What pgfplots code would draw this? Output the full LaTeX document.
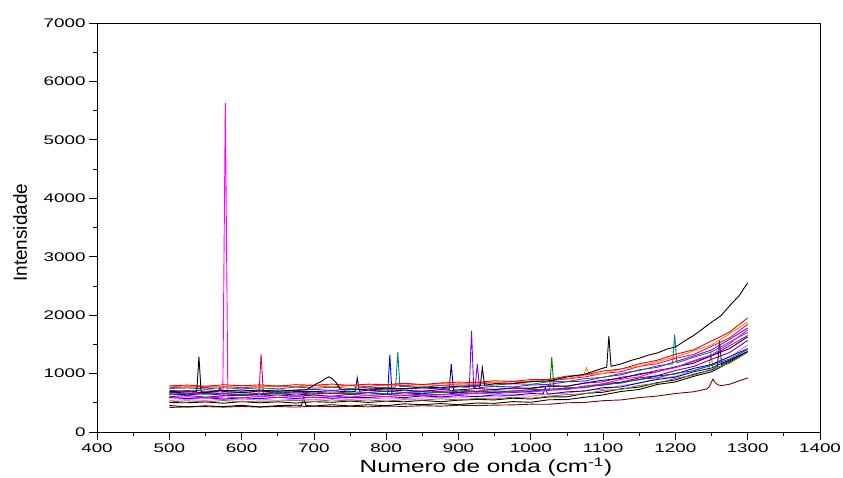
\documentclass[border=0pt]{standalone}
\usepackage{fontspec}
\setmainfont{Liberation Sans}
\usepackage{graphicx}
\usepackage{pgfplots}
\pgfplotsset{compat=1.18}

\definecolor{cRed}{RGB}{255,0,0}
\definecolor{cOrange}{RGB}{255,128,0}
\definecolor{cPink}{RGB}{255,0,128}
\definecolor{cTeal}{RGB}{0,128,128}
\definecolor{cViolet}{RGB}{128,0,255}
\definecolor{cNavy}{RGB}{0,0,128}
\definecolor{cCrimson}{RGB}{210,0,100}
\definecolor{cGreen}{RGB}{0,128,0}
\definecolor{cBlue}{RGB}{0,0,255}
\definecolor{cPurple}{RGB}{128,0,128}
\definecolor{cMagenta}{RGB}{255,0,255}
\definecolor{cRoyal}{RGB}{0,0,205}
\definecolor{cOlive}{RGB}{128,128,0}
\definecolor{cDarkRed}{RGB}{128,0,0}
\definecolor{cLightMag}{RGB}{255,100,255}

\begin{document}
\begin{tikzpicture}
\useasboundingbox (-97bp,-46bp) rectangle (746bp,432bp);
\begin{axis}[
  scale only axis,
  width=723bp, height=409bp,
  xmin=400, xmax=1400, ymin=0, ymax=7000,
  xtick={400,500,...,1400},
  ytick={0,1000,...,7000},
  minor x tick num=1, minor y tick num=1,
  tick align=outside,
  xtick pos=bottom, ytick pos=left,
  major tick length=8bp, minor tick length=4bp,
  axis line style={line width=0.8bp},
  tick style={black, line width=0.8bp},
  /pgf/number format/1000 sep={},
  tick label style={font=\fontsize{12.6}{14}\selectfont},
  xticklabel={\scalebox{1.5}[1]{\pgfmathprintnumber[assume math mode=true]{\tick}}},
  yticklabel={\scalebox{1.5}[1]{\pgfmathprintnumber[assume math mode=true]{\tick}}},
  xlabel={\scalebox{1.38}[1]{Numero de onda (cm\textsuperscript{-1})}},
  ylabel={Intensidade},
  every axis x label/.style={at={(axis description cs:0.538,-0.0995)}, anchor=base,
    font=\fontsize{17.7}{20}\selectfont},
  every axis y label/.style={at={(axis description cs:-0.1065,0.487)}, rotate=90, anchor=center,
    font=\fontsize{19}{21}\selectfont},
  every axis plot/.append style={line width=0.9bp, mark=none},
]

% lower spectra first
\addplot[cDarkRed] coordinates {(500,420)(525,430)(550,434)(575,426)(600,437)(625,426)(650,436)(675,427)(700,442)(725,433)(750,441)(775,431)(800,443)(825,438)(850,450)(875,442)(900,458)(925,452)(950,460)(975,464)(1000,476)(1025,475)(1050,500)(1075,506)(1100,536)(1125,549)(1150,589)(1175,615)(1200,659)(1225,688)(1243,735)(1247,775)(1250,860)(1252,905)(1255,845)(1259,805)(1264,795)(1275,818)(1300,926)};

\addplot[black] coordinates {(500,454)(525,429)(550,448)(575,435)(600,457)(625,430)(650,451)(675,459)(683,455)(686,590)(689,452)(700,445)(725,467)(750,446)(775,467)(800,450)(825,482)(850,467)(875,486)(900,469)(925,496)(950,491)(975,520)(1000,509)(1025,552)(1050,555)(1075,595)(1100,635)(1125,694)(1150,728)(1175,814)(1200,857)(1225,952)(1250,1031)(1275,1192)(1300,1366)};

\addplot[black] coordinates {(500,502)(525,501)(550,514)(575,493)(600,520)(625,499)(650,517)(675,495)(700,519)(725,508)(750,529)(775,506)(800,527)(825,517)(850,541)(875,518)(900,544)(925,558)(950,549)(975,578)(1000,565)(1025,600)(1050,602)(1075,661)(1100,681)(1125,739)(1150,768)(1175,845)(1200,892)(1225,987)(1250,1062)(1258,1112)(1261,1563)(1264,1150)(1275,1218)(1300,1374)};

\addplot[cOlive] coordinates {(500,514)(525,535)(550,514)(575,539)(600,520)(625,529)(650,529)(675,542)(700,522)(725,550)(750,530)(775,549)(800,528)(825,553)(850,546)(875,569)(900,549)(925,573)(950,567)(975,595)(1000,577)(1025,614)(1050,641)(1075,654)(1100,712)(1125,730)(1150,798)(1175,833)(1200,919)(1225,971)(1246,1055)(1249,1353)(1252,1085)(1275,1178)(1300,1366)};

\addplot[cLightMag] coordinates {(500,538)(525,557)(550,538)(575,567)(600,549)(625,564)(650,541)(675,563)(700,551)(725,573)(750,554)(775,581)(800,564)(825,576)(850,579)(875,596)(900,581)(925,614)(950,600)(975,626)(1000,613)(1025,653)(1050,664)(1075,715)(1100,730)(1125,795)(1150,836)(1175,916)(1200,953)(1225,1052)(1250,1159)(1275,1282)(1300,1487)};

\addplot[cRoyal] coordinates {(500,591)(525,572)(550,587)(575,563)(600,585)(625,572)(650,594)(675,573)(700,599)(725,580)(750,591)(775,591)(800,607)(825,588)(850,618)(875,601)(900,622)(925,605)(950,634)(975,630)(1000,658)(1017,652)(1020,760)(1023,650)(1025,649)(1050,687)(1075,701)(1100,758)(1125,771)(1150,840)(1175,899)(1200,940)(1225,1029)(1250,1095)(1275,1235)(1300,1378)};

\addplot[cPurple] coordinates {(500,604)(525,625)(550,598)(575,619)(600,627)(625,612)(650,634)(675,612)(700,631)(725,613)(750,644)(775,627)(800,645)(825,625)(850,649)(875,641)(900,668)(925,653)(950,686)(975,675)(1000,695)(1025,712)(1050,748)(1075,759)(1100,828)(1125,853)(1150,926)(1175,964)(1200,1052)(1225,1121)(1250,1244)(1275,1360)(1300,1568)};

\addplot[cBlue] coordinates {(500,648)(525,637)(550,656)(575,630)(600,650)(625,637)(650,658)(675,632)(700,654)(725,661)(750,648)(775,670)(800,649)(802,652)(805,1318)(808,656)(825,670)(850,654)(875,687)(900,673)(925,693)(950,676)(975,704)(1000,700)(1025,736)(1050,734)(1075,786)(1100,802)(1125,850)(1150,896)(1175,960)(1200,994)(1225,1088)(1250,1154)(1275,1290)(1300,1426)};

\addplot[cGreen] coordinates {(500,640)(525,667)(550,646)(575,662)(600,640)(625,663)(650,652)(675,672)(700,647)(725,667)(750,655)(775,677)(800,652)(825,675)(850,685)(875,673)(900,699)(925,681)(950,705)(975,693)(1000,730)(1025,725)(1026,726)(1029,1284)(1032,732)(1050,758)(1075,760)(1100,814)(1125,837)(1150,902)(1175,929)(1200,1005)(1225,1049)(1250,1140)(1275,1250)(1300,1412)};

\addplot[cCrimson] coordinates {(500,676)(525,657)(550,666)(575,665)(600,679)(624,660)(627,1330)(630,664)(650,686)(675,666)(700,684)(725,662)(750,687)(775,678)(800,700)(825,678)(850,701)(875,693)(900,720)(925,700)(950,729)(975,745)(1000,741)(1025,781)(1050,782)(1075,835)(1100,860)(1125,938)(1150,978)(1175,1057)(1200,1103)(1225,1208)(1250,1304)(1275,1474)(1300,1652)};

\addplot[cNavy] coordinates {(500,666)(525,687)(550,674)(567,690)(570,755)(573,693)(575,695)(600,675)(625,700)(650,682)(675,691)(700,691)(725,705)(750,686)(757,695)(760,925)(763,700)(775,715)(800,697)(825,716)(850,697)(875,725)(887,722)(890,1164)(893,720)(900,719)(925,745)(950,727)(975,755)(1000,752)(1025,791)(1050,786)(1075,839)(1100,887)(1125,918)(1150,995)(1175,1032)(1200,1116)(1225,1176)(1250,1307)(1275,1428)(1300,1630)};

\addplot[cViolet] coordinates {(500,713)(525,694)(550,723)(575,704)(600,720)(625,698)(650,720)(675,708)(700,730)(725,710)(750,737)(775,721)(800,733)(825,735)(850,753)(875,737)(900,771)(915,766)(918,1730)(921,764)(923,762)(926,1164)(929,760)(950,783)(975,770)(1000,805)(1025,815)(1050,860)(1075,872)(1100,939)(1125,979)(1150,1064)(1175,1107)(1200,1203)(1225,1301)(1250,1404)(1275,1587)(1300,1780)};

\addplot[cTeal] coordinates {(500,746)(525,753)(550,738)(575,759)(600,737)(625,756)(650,738)(675,768)(700,750)(725,766)(750,745)(775,768)(800,758)(813,770)(816,1370)(819,774)(825,781)(850,764)(875,794)(900,781)(925,797)(950,804)(975,826)(1000,815)(1025,861)(1050,863)(1075,914)(1100,934)(1125,1005)(1150,1052)(1175,1133)(1196,1168)(1199,1665)(1202,1185)(1225,1277)(1250,1371)(1275,1538)(1300,1706)};

\addplot[cMagenta] coordinates {(500,582)(525,603)(550,580)(574,598)(577.5,5630)(581,597)(600,582)(625,611)(650,593)(675,610)(700,588)(725,610)(750,600)(775,623)(800,606)(825,634)(850,620)(875,635)(900,641)(925,662)(950,650)(975,688)(1000,680)(1025,719)(1050,724)(1075,786)(1100,826)(1125,901)(1150,944)(1175,1037)(1200,1103)(1225,1221)(1250,1320)(1275,1512)(1300,1748)};

\addplot[cPink] coordinates {(500,756)(525,775)(550,762)(575,783)(600,757)(625,778)(650,786)(675,773)(700,795)(725,773)(750,794)(775,777)(800,809)(825,794)(850,813)(875,795)(900,823)(925,817)(950,847)(975,835)(1000,872)(1025,873)(1050,908)(1075,943)(1100,1003)(1125,1034)(1150,1123)(1175,1170)(1200,1260)(1225,1326)(1250,1465)(1275,1612)(1300,1842)};

\addplot[cOrange] coordinates {(500,788)(525,765)(550,788)(575,777)(600,798)(625,773)(650,793)(675,781)(700,803)(725,778)(750,801)(775,810)(800,799)(825,823)(850,805)(875,829)(900,817)(925,854)(950,844)(975,869)(1000,858)(1025,901)(1050,914)(1073,968)(1077,1100)(1081,985)(1100,1001)(1125,1081)(1150,1127)(1175,1207)(1200,1283)(1225,1389)(1250,1490)(1275,1682)(1300,1882)};

\addplot[cRed] coordinates {(500,790)(525,803)(550,782)(575,809)(600,790)(625,807)(650,785)(675,810)(700,800)(725,820)(750,798)(775,819)(800,810)(825,834)(850,812)(875,839)(900,853)(925,847)(950,877)(975,865)(1000,897)(1025,900)(1050,957)(1075,977)(1100,1044)(1125,1078)(1150,1167)(1175,1229)(1200,1330)(1225,1406)(1250,1558)(1275,1712)(1300,1952)};

% spectrum with the broad band near 720 and the strongest baseline rise
\addplot[black] coordinates {(500,689)(525,707)(538,694)(541,1290)(544,690)(550,685)(575,709)(600,700)(625,720)(650,698)(675,719)(690,725)(699,790)(704,830)(708,850)(712,880)(716,915)(721,945)(726,905)(731,840)(736,740)(742,718)(750,722)(775,736)(800,749)(825,741)(850,770)(875,757)(900,788)(925,783)(930,790)(933,1096)(936,800)(950,827)(975,826)(1000,862)(1025,875)(1050,941)(1075,991)(1100,1094)(1105,1108)(1108,1640)(1111,1125)(1125,1165)(1140,1230)(1150,1262)(1163,1318)(1175,1352)(1188,1418)(1200,1455)(1213,1560)(1225,1650)(1238,1768)(1250,1880)(1263,1990)(1275,2160)(1288,2330)(1300,2556)};

\end{axis}
\end{tikzpicture}
\end{document}
